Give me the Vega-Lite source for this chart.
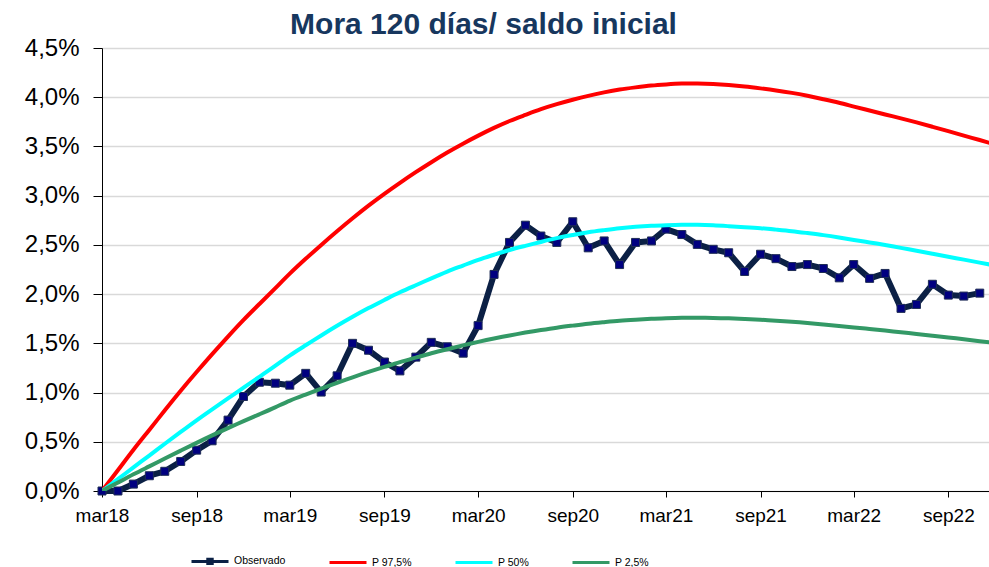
{
  "$schema": "https://vega.github.io/schema/vega-lite/v6.json",
  "width": 887,
  "height": 443,
  "autosize": {"type": "none"},
  "padding": {"left": 102, "top": 48, "right": 0, "bottom": 76},
  "background": "white",
  "title": {
    "text": "Mora 120 días/ saldo inicial",
    "font": "Liberation Sans",
    "fontSize": 30,
    "fontWeight": "bold",
    "color": "#17375E",
    "anchor": "middle",
    "frame": "group",
    "dx": -62,
    "offset": -4
  },
  "datasets": {
    "obs": [
      {"fecha": "2018-03-01", "serie": "Observado", "valor": 0.00},
      {"fecha": "2018-04-01", "serie": "Observado", "valor": 0.00},
      {"fecha": "2018-05-01", "serie": "Observado", "valor": 0.07},
      {"fecha": "2018-06-01", "serie": "Observado", "valor": 0.155},
      {"fecha": "2018-07-01", "serie": "Observado", "valor": 0.20},
      {"fecha": "2018-08-01", "serie": "Observado", "valor": 0.30},
      {"fecha": "2018-09-01", "serie": "Observado", "valor": 0.415},
      {"fecha": "2018-10-01", "serie": "Observado", "valor": 0.51},
      {"fecha": "2018-11-01", "serie": "Observado", "valor": 0.72},
      {"fecha": "2018-12-01", "serie": "Observado", "valor": 0.96},
      {"fecha": "2019-01-01", "serie": "Observado", "valor": 1.105},
      {"fecha": "2019-02-01", "serie": "Observado", "valor": 1.095},
      {"fecha": "2019-03-01", "serie": "Observado", "valor": 1.075},
      {"fecha": "2019-04-01", "serie": "Observado", "valor": 1.195},
      {"fecha": "2019-05-01", "serie": "Observado", "valor": 1.005},
      {"fecha": "2019-06-01", "serie": "Observado", "valor": 1.17},
      {"fecha": "2019-07-01", "serie": "Observado", "valor": 1.50},
      {"fecha": "2019-08-01", "serie": "Observado", "valor": 1.43},
      {"fecha": "2019-09-01", "serie": "Observado", "valor": 1.31},
      {"fecha": "2019-10-01", "serie": "Observado", "valor": 1.22},
      {"fecha": "2019-11-01", "serie": "Observado", "valor": 1.36},
      {"fecha": "2019-12-01", "serie": "Observado", "valor": 1.51},
      {"fecha": "2020-01-01", "serie": "Observado", "valor": 1.465},
      {"fecha": "2020-02-01", "serie": "Observado", "valor": 1.40},
      {"fecha": "2020-03-01", "serie": "Observado", "valor": 1.68},
      {"fecha": "2020-04-01", "serie": "Observado", "valor": 2.20},
      {"fecha": "2020-05-01", "serie": "Observado", "valor": 2.525},
      {"fecha": "2020-06-01", "serie": "Observado", "valor": 2.70},
      {"fecha": "2020-07-01", "serie": "Observado", "valor": 2.59},
      {"fecha": "2020-08-01", "serie": "Observado", "valor": 2.525},
      {"fecha": "2020-09-01", "serie": "Observado", "valor": 2.735},
      {"fecha": "2020-10-01", "serie": "Observado", "valor": 2.47},
      {"fecha": "2020-11-01", "serie": "Observado", "valor": 2.54},
      {"fecha": "2020-12-01", "serie": "Observado", "valor": 2.30},
      {"fecha": "2021-01-01", "serie": "Observado", "valor": 2.525},
      {"fecha": "2021-02-01", "serie": "Observado", "valor": 2.54},
      {"fecha": "2021-03-01", "serie": "Observado", "valor": 2.66},
      {"fecha": "2021-04-01", "serie": "Observado", "valor": 2.605},
      {"fecha": "2021-05-01", "serie": "Observado", "valor": 2.505},
      {"fecha": "2021-06-01", "serie": "Observado", "valor": 2.455},
      {"fecha": "2021-07-01", "serie": "Observado", "valor": 2.42},
      {"fecha": "2021-08-01", "serie": "Observado", "valor": 2.23},
      {"fecha": "2021-09-01", "serie": "Observado", "valor": 2.405},
      {"fecha": "2021-10-01", "serie": "Observado", "valor": 2.36},
      {"fecha": "2021-11-01", "serie": "Observado", "valor": 2.28},
      {"fecha": "2021-12-01", "serie": "Observado", "valor": 2.30},
      {"fecha": "2022-01-01", "serie": "Observado", "valor": 2.26},
      {"fecha": "2022-02-01", "serie": "Observado", "valor": 2.165},
      {"fecha": "2022-03-01", "serie": "Observado", "valor": 2.30},
      {"fecha": "2022-04-01", "serie": "Observado", "valor": 2.16},
      {"fecha": "2022-05-01", "serie": "Observado", "valor": 2.21},
      {"fecha": "2022-06-01", "serie": "Observado", "valor": 1.855},
      {"fecha": "2022-07-01", "serie": "Observado", "valor": 1.895},
      {"fecha": "2022-08-01", "serie": "Observado", "valor": 2.10},
      {"fecha": "2022-09-01", "serie": "Observado", "valor": 1.99},
      {"fecha": "2022-10-01", "serie": "Observado", "valor": 1.98},
      {"fecha": "2022-11-01", "serie": "Observado", "valor": 2.01}
    ],
    "curvas": [
      {"fecha": "2018-03-01", "serie": "P 97,5%", "valor": 0.00},
      {"fecha": "2018-04-01", "serie": "P 97,5%", "valor": 0.21},
      {"fecha": "2018-05-01", "serie": "P 97,5%", "valor": 0.42},
      {"fecha": "2018-06-01", "serie": "P 97,5%", "valor": 0.62},
      {"fecha": "2018-07-01", "serie": "P 97,5%", "valor": 0.82},
      {"fecha": "2018-08-01", "serie": "P 97,5%", "valor": 1.02},
      {"fecha": "2018-09-01", "serie": "P 97,5%", "valor": 1.21},
      {"fecha": "2018-10-01", "serie": "P 97,5%", "valor": 1.39},
      {"fecha": "2018-11-01", "serie": "P 97,5%", "valor": 1.57},
      {"fecha": "2018-12-01", "serie": "P 97,5%", "valor": 1.74},
      {"fecha": "2019-01-01", "serie": "P 97,5%", "valor": 1.90},
      {"fecha": "2019-02-01", "serie": "P 97,5%", "valor": 2.06},
      {"fecha": "2019-03-01", "serie": "P 97,5%", "valor": 2.21},
      {"fecha": "2019-04-01", "serie": "P 97,5%", "valor": 2.36},
      {"fecha": "2019-05-01", "serie": "P 97,5%", "valor": 2.50},
      {"fecha": "2019-06-01", "serie": "P 97,5%", "valor": 2.64},
      {"fecha": "2019-07-01", "serie": "P 97,5%", "valor": 2.77},
      {"fecha": "2019-08-01", "serie": "P 97,5%", "valor": 2.90},
      {"fecha": "2019-09-01", "serie": "P 97,5%", "valor": 3.02},
      {"fecha": "2019-10-01", "serie": "P 97,5%", "valor": 3.13},
      {"fecha": "2019-11-01", "serie": "P 97,5%", "valor": 3.24},
      {"fecha": "2019-12-01", "serie": "P 97,5%", "valor": 3.34},
      {"fecha": "2020-01-01", "serie": "P 97,5%", "valor": 3.44},
      {"fecha": "2020-02-01", "serie": "P 97,5%", "valor": 3.53},
      {"fecha": "2020-03-01", "serie": "P 97,5%", "valor": 3.61},
      {"fecha": "2020-04-01", "serie": "P 97,5%", "valor": 3.69},
      {"fecha": "2020-05-01", "serie": "P 97,5%", "valor": 3.76},
      {"fecha": "2020-06-01", "serie": "P 97,5%", "valor": 3.82},
      {"fecha": "2020-07-01", "serie": "P 97,5%", "valor": 3.88},
      {"fecha": "2020-08-01", "serie": "P 97,5%", "valor": 3.93},
      {"fecha": "2020-09-01", "serie": "P 97,5%", "valor": 3.975},
      {"fecha": "2020-10-01", "serie": "P 97,5%", "valor": 4.015},
      {"fecha": "2020-11-01", "serie": "P 97,5%", "valor": 4.05},
      {"fecha": "2020-12-01", "serie": "P 97,5%", "valor": 4.08},
      {"fecha": "2021-01-01", "serie": "P 97,5%", "valor": 4.10},
      {"fecha": "2021-02-01", "serie": "P 97,5%", "valor": 4.12},
      {"fecha": "2021-03-01", "serie": "P 97,5%", "valor": 4.13},
      {"fecha": "2021-04-01", "serie": "P 97,5%", "valor": 4.14},
      {"fecha": "2021-05-01", "serie": "P 97,5%", "valor": 4.14},
      {"fecha": "2021-06-01", "serie": "P 97,5%", "valor": 4.135},
      {"fecha": "2021-07-01", "serie": "P 97,5%", "valor": 4.125},
      {"fecha": "2021-08-01", "serie": "P 97,5%", "valor": 4.11},
      {"fecha": "2021-09-01", "serie": "P 97,5%", "valor": 4.09},
      {"fecha": "2021-10-01", "serie": "P 97,5%", "valor": 4.07},
      {"fecha": "2021-11-01", "serie": "P 97,5%", "valor": 4.045},
      {"fecha": "2021-12-01", "serie": "P 97,5%", "valor": 4.015},
      {"fecha": "2022-01-01", "serie": "P 97,5%", "valor": 3.98},
      {"fecha": "2022-02-01", "serie": "P 97,5%", "valor": 3.945},
      {"fecha": "2022-03-01", "serie": "P 97,5%", "valor": 3.905},
      {"fecha": "2022-04-01", "serie": "P 97,5%", "valor": 3.865},
      {"fecha": "2022-05-01", "serie": "P 97,5%", "valor": 3.825},
      {"fecha": "2022-06-01", "serie": "P 97,5%", "valor": 3.785},
      {"fecha": "2022-07-01", "serie": "P 97,5%", "valor": 3.745},
      {"fecha": "2022-08-01", "serie": "P 97,5%", "valor": 3.70},
      {"fecha": "2022-09-01", "serie": "P 97,5%", "valor": 3.655},
      {"fecha": "2022-10-01", "serie": "P 97,5%", "valor": 3.61},
      {"fecha": "2022-11-01", "serie": "P 97,5%", "valor": 3.565},
      {"fecha": "2022-12-01", "serie": "P 97,5%", "valor": 3.52},
      {"fecha": "2018-03-01", "serie": "P 50%", "valor": 0.00},
      {"fecha": "2018-04-01", "serie": "P 50%", "valor": 0.12},
      {"fecha": "2018-05-01", "serie": "P 50%", "valor": 0.24},
      {"fecha": "2018-06-01", "serie": "P 50%", "valor": 0.36},
      {"fecha": "2018-07-01", "serie": "P 50%", "valor": 0.48},
      {"fecha": "2018-08-01", "serie": "P 50%", "valor": 0.60},
      {"fecha": "2018-09-01", "serie": "P 50%", "valor": 0.72},
      {"fecha": "2018-10-01", "serie": "P 50%", "valor": 0.83},
      {"fecha": "2018-11-01", "serie": "P 50%", "valor": 0.94},
      {"fecha": "2018-12-01", "serie": "P 50%", "valor": 1.05},
      {"fecha": "2019-01-01", "serie": "P 50%", "valor": 1.16},
      {"fecha": "2019-02-01", "serie": "P 50%", "valor": 1.27},
      {"fecha": "2019-03-01", "serie": "P 50%", "valor": 1.38},
      {"fecha": "2019-04-01", "serie": "P 50%", "valor": 1.48},
      {"fecha": "2019-05-01", "serie": "P 50%", "valor": 1.58},
      {"fecha": "2019-06-01", "serie": "P 50%", "valor": 1.68},
      {"fecha": "2019-07-01", "serie": "P 50%", "valor": 1.77},
      {"fecha": "2019-08-01", "serie": "P 50%", "valor": 1.86},
      {"fecha": "2019-09-01", "serie": "P 50%", "valor": 1.94},
      {"fecha": "2019-10-01", "serie": "P 50%", "valor": 2.02},
      {"fecha": "2019-11-01", "serie": "P 50%", "valor": 2.09},
      {"fecha": "2019-12-01", "serie": "P 50%", "valor": 2.16},
      {"fecha": "2020-01-01", "serie": "P 50%", "valor": 2.23},
      {"fecha": "2020-02-01", "serie": "P 50%", "valor": 2.29},
      {"fecha": "2020-03-01", "serie": "P 50%", "valor": 2.35},
      {"fecha": "2020-04-01", "serie": "P 50%", "valor": 2.40},
      {"fecha": "2020-05-01", "serie": "P 50%", "valor": 2.45},
      {"fecha": "2020-06-01", "serie": "P 50%", "valor": 2.49},
      {"fecha": "2020-07-01", "serie": "P 50%", "valor": 2.53},
      {"fecha": "2020-08-01", "serie": "P 50%", "valor": 2.57},
      {"fecha": "2020-09-01", "serie": "P 50%", "valor": 2.60},
      {"fecha": "2020-10-01", "serie": "P 50%", "valor": 2.63},
      {"fecha": "2020-11-01", "serie": "P 50%", "valor": 2.65},
      {"fecha": "2020-12-01", "serie": "P 50%", "valor": 2.67},
      {"fecha": "2021-01-01", "serie": "P 50%", "valor": 2.685},
      {"fecha": "2021-02-01", "serie": "P 50%", "valor": 2.695},
      {"fecha": "2021-03-01", "serie": "P 50%", "valor": 2.70},
      {"fecha": "2021-04-01", "serie": "P 50%", "valor": 2.705},
      {"fecha": "2021-05-01", "serie": "P 50%", "valor": 2.705},
      {"fecha": "2021-06-01", "serie": "P 50%", "valor": 2.70},
      {"fecha": "2021-07-01", "serie": "P 50%", "valor": 2.69},
      {"fecha": "2021-08-01", "serie": "P 50%", "valor": 2.68},
      {"fecha": "2021-09-01", "serie": "P 50%", "valor": 2.67},
      {"fecha": "2021-10-01", "serie": "P 50%", "valor": 2.655},
      {"fecha": "2021-11-01", "serie": "P 50%", "valor": 2.64},
      {"fecha": "2021-12-01", "serie": "P 50%", "valor": 2.62},
      {"fecha": "2022-01-01", "serie": "P 50%", "valor": 2.60},
      {"fecha": "2022-02-01", "serie": "P 50%", "valor": 2.575},
      {"fecha": "2022-03-01", "serie": "P 50%", "valor": 2.55},
      {"fecha": "2022-04-01", "serie": "P 50%", "valor": 2.525},
      {"fecha": "2022-05-01", "serie": "P 50%", "valor": 2.50},
      {"fecha": "2022-06-01", "serie": "P 50%", "valor": 2.47},
      {"fecha": "2022-07-01", "serie": "P 50%", "valor": 2.44},
      {"fecha": "2022-08-01", "serie": "P 50%", "valor": 2.41},
      {"fecha": "2022-09-01", "serie": "P 50%", "valor": 2.38},
      {"fecha": "2022-10-01", "serie": "P 50%", "valor": 2.35},
      {"fecha": "2022-11-01", "serie": "P 50%", "valor": 2.32},
      {"fecha": "2022-12-01", "serie": "P 50%", "valor": 2.29},
      {"fecha": "2018-03-01", "serie": "P 2,5%", "valor": 0.00},
      {"fecha": "2018-04-01", "serie": "P 2,5%", "valor": 0.085},
      {"fecha": "2018-05-01", "serie": "P 2,5%", "valor": 0.17},
      {"fecha": "2018-06-01", "serie": "P 2,5%", "valor": 0.25},
      {"fecha": "2018-07-01", "serie": "P 2,5%", "valor": 0.33},
      {"fecha": "2018-08-01", "serie": "P 2,5%", "valor": 0.41},
      {"fecha": "2018-09-01", "serie": "P 2,5%", "valor": 0.49},
      {"fecha": "2018-10-01", "serie": "P 2,5%", "valor": 0.565},
      {"fecha": "2018-11-01", "serie": "P 2,5%", "valor": 0.64},
      {"fecha": "2018-12-01", "serie": "P 2,5%", "valor": 0.71},
      {"fecha": "2019-01-01", "serie": "P 2,5%", "valor": 0.78},
      {"fecha": "2019-02-01", "serie": "P 2,5%", "valor": 0.85},
      {"fecha": "2019-03-01", "serie": "P 2,5%", "valor": 0.92},
      {"fecha": "2019-04-01", "serie": "P 2,5%", "valor": 0.98},
      {"fecha": "2019-05-01", "serie": "P 2,5%", "valor": 1.04},
      {"fecha": "2019-06-01", "serie": "P 2,5%", "valor": 1.10},
      {"fecha": "2019-07-01", "serie": "P 2,5%", "valor": 1.155},
      {"fecha": "2019-08-01", "serie": "P 2,5%", "valor": 1.21},
      {"fecha": "2019-09-01", "serie": "P 2,5%", "valor": 1.26},
      {"fecha": "2019-10-01", "serie": "P 2,5%", "valor": 1.31},
      {"fecha": "2019-11-01", "serie": "P 2,5%", "valor": 1.355},
      {"fecha": "2019-12-01", "serie": "P 2,5%", "valor": 1.40},
      {"fecha": "2020-01-01", "serie": "P 2,5%", "valor": 1.44},
      {"fecha": "2020-02-01", "serie": "P 2,5%", "valor": 1.48},
      {"fecha": "2020-03-01", "serie": "P 2,5%", "valor": 1.515},
      {"fecha": "2020-04-01", "serie": "P 2,5%", "valor": 1.55},
      {"fecha": "2020-05-01", "serie": "P 2,5%", "valor": 1.58},
      {"fecha": "2020-06-01", "serie": "P 2,5%", "valor": 1.61},
      {"fecha": "2020-07-01", "serie": "P 2,5%", "valor": 1.635},
      {"fecha": "2020-08-01", "serie": "P 2,5%", "valor": 1.66},
      {"fecha": "2020-09-01", "serie": "P 2,5%", "valor": 1.68},
      {"fecha": "2020-10-01", "serie": "P 2,5%", "valor": 1.70},
      {"fecha": "2020-11-01", "serie": "P 2,5%", "valor": 1.715},
      {"fecha": "2020-12-01", "serie": "P 2,5%", "valor": 1.73},
      {"fecha": "2021-01-01", "serie": "P 2,5%", "valor": 1.74},
      {"fecha": "2021-02-01", "serie": "P 2,5%", "valor": 1.75},
      {"fecha": "2021-03-01", "serie": "P 2,5%", "valor": 1.755},
      {"fecha": "2021-04-01", "serie": "P 2,5%", "valor": 1.76},
      {"fecha": "2021-05-01", "serie": "P 2,5%", "valor": 1.76},
      {"fecha": "2021-06-01", "serie": "P 2,5%", "valor": 1.758},
      {"fecha": "2021-07-01", "serie": "P 2,5%", "valor": 1.754},
      {"fecha": "2021-08-01", "serie": "P 2,5%", "valor": 1.748},
      {"fecha": "2021-09-01", "serie": "P 2,5%", "valor": 1.74},
      {"fecha": "2021-10-01", "serie": "P 2,5%", "valor": 1.73},
      {"fecha": "2021-11-01", "serie": "P 2,5%", "valor": 1.72},
      {"fecha": "2021-12-01", "serie": "P 2,5%", "valor": 1.706},
      {"fecha": "2022-01-01", "serie": "P 2,5%", "valor": 1.692},
      {"fecha": "2022-02-01", "serie": "P 2,5%", "valor": 1.677},
      {"fecha": "2022-03-01", "serie": "P 2,5%", "valor": 1.662},
      {"fecha": "2022-04-01", "serie": "P 2,5%", "valor": 1.646},
      {"fecha": "2022-05-01", "serie": "P 2,5%", "valor": 1.63},
      {"fecha": "2022-06-01", "serie": "P 2,5%", "valor": 1.613},
      {"fecha": "2022-07-01", "serie": "P 2,5%", "valor": 1.596},
      {"fecha": "2022-08-01", "serie": "P 2,5%", "valor": 1.578},
      {"fecha": "2022-09-01", "serie": "P 2,5%", "valor": 1.56},
      {"fecha": "2022-10-01", "serie": "P 2,5%", "valor": 1.541},
      {"fecha": "2022-11-01", "serie": "P 2,5%", "valor": 1.522},
      {"fecha": "2022-12-01", "serie": "P 2,5%", "valor": 1.503}
    ]
  },
  "encoding": {
    "x": {
      "field": "fecha",
      "type": "temporal",
      "scale": {"type": "utc", "domain": ["2018-03-01", "2022-11-19"]},
      "axis": {
        "title": null,
        "grid": false,
        "values": [
          {"year": 2018, "month": 3, "date": 1, "utc": true},
          {"year": 2018, "month": 9, "date": 1, "utc": true},
          {"year": 2019, "month": 3, "date": 1, "utc": true},
          {"year": 2019, "month": 9, "date": 1, "utc": true},
          {"year": 2020, "month": 3, "date": 1, "utc": true},
          {"year": 2020, "month": 9, "date": 1, "utc": true},
          {"year": 2021, "month": 3, "date": 1, "utc": true},
          {"year": 2021, "month": 9, "date": 1, "utc": true},
          {"year": 2022, "month": 3, "date": 1, "utc": true},
          {"year": 2022, "month": 9, "date": 1, "utc": true}
        ],
        "labelExpr": "lower(utcFormat(datum.value, '%b%y'))",
        "labelFontSize": 19,
        "labelPadding": 9,
        "tickSize": 6,
        "labelOverlap": false,
        "labelFlush": false
      }
    },
    "y": {
      "field": "valor",
      "type": "quantitative",
      "scale": {"domain": [0, 4.5], "nice": false, "zero": true},
      "axis": {
        "title": null,
        "values": [0, 0.5, 1, 1.5, 2, 2.5, 3, 3.5, 4, 4.5],
        "labelExpr": "replace(format(datum.value, '.1f'), '.', ',') + '%'",
        "labelFontSize": 24,
        "labelPadding": 14,
        "tickSize": 9,
        "grid": true,
        "gridColor": "#D9D9D9",
        "gridWidth": 1.3
      }
    }
  },
  "layer": [
    {
      "data": {"name": "obs"},
      "mark": {"type": "line", "strokeWidth": 6, "strokeJoin": "round"},
      "encoding": {
        "color": {
          "field": "serie",
          "type": "nominal",
          "scale": {
            "domain": ["Observado", "P 97,5%", "P 50%", "P 2,5%"],
            "range": ["#0B2045", "#FF0000", "#00FFFF", "#339966"]
          },
          "legend": {
            "title": null,
            "orient": "none",
            "direction": "horizontal",
            "columns": 4,
            "legendX": 88,
            "legendY": 493,
            "columnPadding": 37,
            "symbolSize": 1369,
            "symbolStrokeWidth": 3,
            "symbolType": "stroke",
            "labelFontSize": 10.5,
            "labelOffset": 4,
            "labelFont": "Liberation Sans",
            "labelColor": "#000000",
            "encode": {
              "symbols": {
                "update": {
                  "shape": {"signal": "datum.value === 'Observado' ? 'M-1,0H1M-0.12,-0.12H0.12V0.12H-0.12Z' : 'stroke'"},
                  "fill": {"signal": "datum.value === 'Observado' ? '#000080' : 'transparent'"}
                }
              }
            }
          }
        }
      }
    },
    {
      "data": {"name": "obs"},
      "mark": {"type": "point", "shape": "square", "filled": true, "size": 64, "color": "#000080", "stroke": "#1F2D55", "strokeWidth": 1, "opacity": 1},
      "encoding": {}
    },
    {
      "data": {"name": "curvas"},
      "mark": {"type": "line", "strokeWidth": 4, "interpolate": "basis", "clip": true},
      "encoding": {
        "color": {"field": "serie", "type": "nominal"}
      }
    }
  ],
  "config": {
    "view": {"stroke": null},
    "font": "Liberation Sans",
    "axis": {
      "labelFont": "Liberation Sans",
      "labelColor": "#000000",
      "domainColor": "#000000",
      "tickColor": "#000000",
      "domainWidth": 1,
      "tickWidth": 1
    }
  }
}
